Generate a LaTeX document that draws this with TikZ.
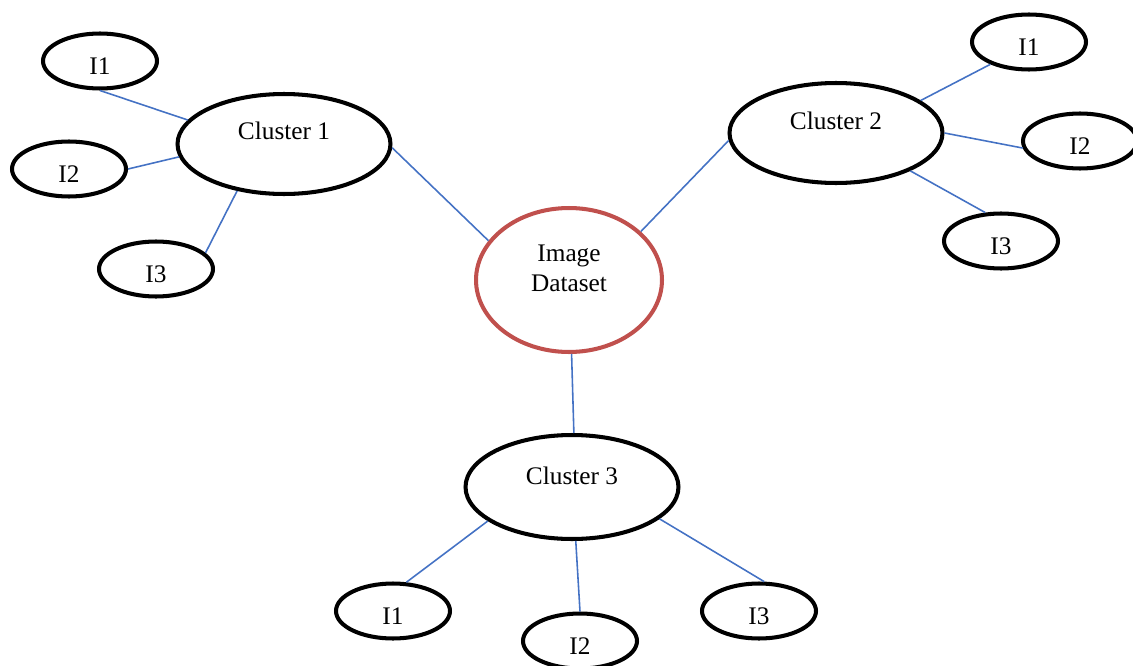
\documentclass[tikz,border=0pt]{standalone}
\usepackage{fontspec}
\setmainfont{Liberation Serif}
\usepackage{tikz}
\usetikzlibrary{shapes.geometric, positioning}
\definecolor{red1}{RGB}{192,80,77}
\definecolor{blue1}{RGB}{68,114,196}

\begin{document}
\begin{tikzpicture}[x=0.02cm, y=-0.02cm,
    every node/.append style={font=\fontsize{14.4}{17}\selectfont},
    cluster/.style={draw=black, shape=ellipse, line width=2.3pt, inner sep=0pt, minimum width=4.26cm, minimum height=2.0cm},
    image/.style={draw=black, shape=ellipse, line width=2.3pt, inner sep=0pt, minimum width=2.28cm, minimum height=1.1cm},
    dataset/.style={draw=red1, shape=ellipse, line width=2.3pt, inner sep=0pt, minimum width=3.72cm, minimum height=2.88cm},
    up/.style={yshift=#1, inner sep=0pt},
    link/.style={draw=blue1, line width=0.9pt}
]
    \useasboundingbox (0,0) rectangle (1133,666);

    % centre
    \node[dataset, name=DS, label={[up=0.24cm, align=center]center:Image\\Dataset}] at(569,280) {};

    % cluster 1
    \node[cluster, name=C1, label={[up=0.26cm]center:Cluster 1}] at(284,144) {};
    \node[image, name=C1a, label={[up=-0.1cm]center:I1}] at(100,61) {};
    \node[image, name=C1b, label={[up=-0.1cm]center:I2}] at(69,169) {};
    \node[image, name=C1c, label={[up=-0.1cm]center:I3}] at(156,269) {};

    % cluster 2
    \node[cluster, name=C2, label={[up=0.24cm]center:Cluster 2}] at(836,133) {};
    \node[image, name=C2a, label={[up=-0.1cm]center:I1}] at(1029,42) {};
    \node[image, name=C2b, label={[up=-0.1cm]center:I2}] at(1080,141) {};
    \node[image, name=C2c, label={[up=-0.1cm]center:I3}] at(1001,241) {};

    % cluster 3
    \node[cluster, name=C3, minimum height=2.08cm, label={[up=0.22cm]center:Cluster 3}] at(572,487) {};
    \node[image, name=C3a, label={[up=-0.1cm]center:I1}] at(393,611) {};
    \node[image, name=C3b, label={[up=-0.1cm]center:I2}] at(580,641) {};
    \node[image, name=C3c, label={[up=-0.1cm]center:I3}] at(759,611) {};

    \draw[link] (C1a.south) -- (C1.166);
    \draw[link] (C1b.east) -- (C1.187);
    \draw[link] (C1c.18) -- (C1.225);
    \draw[link] (C1.358) -- (DS.154);

    \draw[link] (C2.184) -- (DS.34);
    \draw[link] (C2.21) -- (C2a.210);
    \draw[link] (C2.east) -- (C2b.187);
    \draw[link] (C2.333) -- (C2c.119);

    \draw[link] (DS.272) -- (C3.88);
    \draw[link] (C3.202) -- (C3a.65);
    \draw[link] (C3.274) -- (C3b.north);
    \draw[link] (C3.340) -- (C3c.80);

\end{tikzpicture}
\end{document}
